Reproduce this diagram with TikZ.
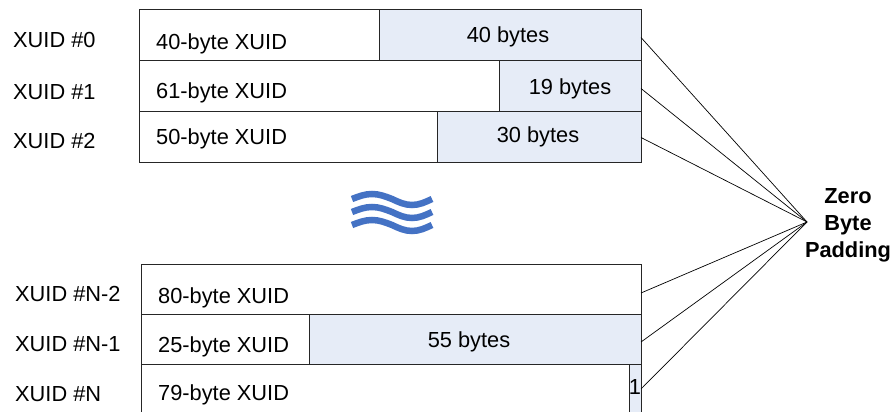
\documentclass[tikz,border=0pt]{standalone}
\usepackage{fontspec}
\setmainfont{Liberation Sans}
\usetikzlibrary{positioning}
\definecolor{padblue}{RGB}{230,236,247}
\definecolor{waveblue}{RGB}{68,114,196}
\tikzset{
  xuidbox/.style={draw=black!85, line width=0.9pt, fill=white, inner sep=0pt, outer sep=0pt, anchor=north west},
  padbox/.style={xuidbox, fill=padblue},
  celltext/.style={inner sep=0pt, anchor=base west},
  padtext/.style={inner sep=0pt, anchor=base},
  fanline/.style={line width=0.7pt},
  waveline/.style={draw=waveblue, line width=6.5pt}
}
\begin{document}
\begin{tikzpicture}[x=1pt, y=1pt, font=\fontsize{21.8}{26}\selectfont]
  \clip (0,0) rectangle (894,412);

  % upper block
  \node [xuidbox, minimum width=240pt, minimum height=51pt] (x0) at (139,403) {};
  \node [padbox, minimum width=262pt, minimum height=51pt] (p0) at (379,403) {};
  \node [xuidbox, minimum width=360pt, minimum height=51pt] (x1) at (139,352) {};
  \node [padbox, minimum width=142pt, minimum height=51pt] (p1) at (499,352) {};
  \node [xuidbox, minimum width=298pt, minimum height=51pt] (x2) at (139,301) {};
  \node [padbox, minimum width=204pt, minimum height=51pt] (p2) at (437,301) {};

  % lower block
  \node [xuidbox, minimum width=500pt, minimum height=50pt] (x3) at (141,148) {};
  \node [xuidbox, minimum width=168pt, minimum height=50pt] (x4) at (141,98) {};
  \node [padbox, minimum width=332pt, minimum height=50pt] (p4) at (309,98) {};
  \node [xuidbox, minimum width=488pt, minimum height=52pt] (x5) at (141,48) {};
  \node [padbox, minimum width=12pt, minimum height=52pt] (p5) at (629,48) {};

  % texts in the cells
  \node [celltext] (t0) at (156,362.7) {40-byte XUID};
  \node [padtext] (q0) at (508,369.7) {40 bytes};
  \node [celltext] (t1) at (156,313) {61-byte XUID};
  \node [padtext] (q1) at (570,317) {19 bytes};
  \node [celltext] (t2) at (156,267) {50-byte XUID};
  \node [padtext] (q2) at (538,269) {30 bytes};
  \node [celltext] (t3) at (158,108) {80-byte XUID};
  \node [celltext] (t4) at (158,59) {25-byte XUID};
  \node [padtext] (q4) at (469,64.3) {55 bytes};
  \node [celltext] (t5) at (158,11.3) {79-byte XUID};
  \node [padtext] (q5) at (635,17) {1};

  % row names
  \node [celltext] (n0) at (13,364) {XUID \#0};
  \node [celltext] (n1) at (13,312) {XUID \#1};
  \node [celltext] (n2) at (13,263.7) {XUID \#2};
  \node [celltext] (n3) at (15,110.3) {XUID \#N-2};
  \node [celltext] (n4) at (15,60.3) {XUID \#N-1};
  \node [celltext] (n5) at (15,10.3) {XUID \#N};

  % gap sign
  \draw [waveline] (352,213) sin (372,218) cos (392,213) sin (412,207) cos (432,213);
  \draw [waveline] (352,200) sin (372,205) cos (392,200) sin (412,194) cos (432,200);
  \draw [waveline] (352,187) sin (372,192) cos (392,187) sin (412,181) cos (432,187);

  % padding fan
  \coordinate (hub) at (807,190);
  \node [align=center, font=\fontsize{21.8}{27}\selectfont\bfseries] (zbp) at (848,187) {Zero\\Byte\\Padding};
  \draw [fanline] ([yshift=-3pt]p0.east) -- (hub);
  \draw [fanline] ([yshift=-3pt]p1.east) -- (hub);
  \draw [fanline] ([yshift=-1pt]p2.east) -- (hub);
  \draw [fanline] ([yshift=-4pt]x3.east) -- (hub);
  \draw [fanline] ([yshift=-3pt]p4.east) -- (hub);
  \draw [fanline] ([yshift=1pt]p5.east) -- (hub);
\end{tikzpicture}
\end{document}
